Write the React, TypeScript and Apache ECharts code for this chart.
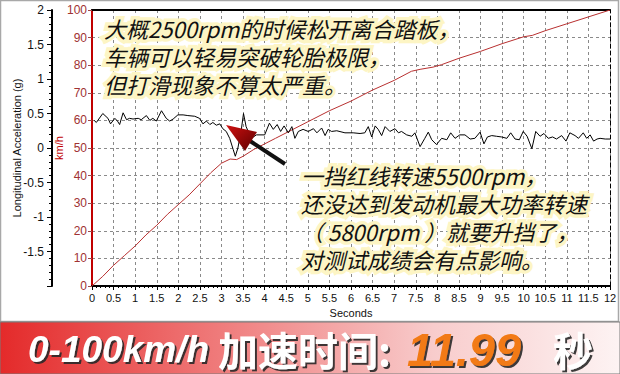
import React, { useEffect, useRef } from "react";
import * as echarts from "echarts";

// Speed (km/h) vs time (s)
const speedTime = [0, 0.25, 0.5, 0.75, 1.0, 1.25, 1.5, 1.75, 2.0, 2.25, 2.5, 2.75, 3.0, 3.2, 3.35, 3.5, 3.75, 4.0, 4.25, 4.5, 5.0, 5.5, 6.0, 6.5, 7.0, 7.4, 7.6, 7.9, 8.1, 8.5, 9.0, 9.5, 10.0, 10.2, 10.5, 11.0, 11.5, 12.0];
const speedKmh = [0, 3.5, 7.5, 11, 14.5, 18.5, 22, 26, 29.5, 33, 37, 41, 44.5, 46, 45.8, 47, 49.5, 51.5, 53.5, 55.5, 59.5, 63.5, 67, 71, 74.5, 77.8, 78.5, 79.3, 80.2, 82.5, 85, 87.8, 90.3, 90.8, 92.5, 95, 97.5, 100];

// Longitudinal acceleration (g) vs time (s)
const accelTime = [0.05, 0.1, 0.25, 0.37, 0.43, 0.53, 0.59, 0.64, 0.72, 0.8, 0.87, 0.95, 1.07, 1.14, 1.26, 1.34, 1.41, 1.49, 1.61, 1.72, 1.8, 1.88, 1.99, 2.11, 2.22, 2.38, 2.49, 2.57, 2.65, 2.73, 2.8, 2.88, 2.96, 3.03, 3.11, 3.19, 3.27, 3.32, 3.38, 3.46, 3.51, 3.57, 3.69, 3.81, 4.0, 4.11, 4.2, 4.29, 4.37, 4.45, 4.55, 4.63, 4.7, 4.78, 4.89, 5.01, 5.13, 5.21, 5.32, 5.4, 5.47, 5.55, 5.67, 5.86, 6.05, 6.21, 6.32, 6.4, 6.48, 6.56, 6.63, 6.71, 6.79, 6.9, 7.02, 7.1, 7.17, 7.29, 7.41, 7.48, 7.6, 7.71, 7.79, 7.87, 7.98, 8.1, 8.22, 8.31, 8.41, 8.52, 8.64, 8.76, 8.87, 8.99, 9.08, 9.16, 9.26, 9.37, 9.49, 9.61, 9.7, 9.8, 9.9, 9.99, 10.08, 10.19, 10.28, 10.38, 10.47, 10.57, 10.67, 10.76, 10.88, 10.98, 11.07, 11.19, 11.27, 11.38, 11.46, 11.54, 11.62, 11.7, 11.77, 11.89, 12.0];
const accelG = [0.4, 0.37, 0.5, 0.43, 0.35, 0.43, 0.39, 0.34, 0.51, 0.41, 0.43, 0.42, 0.43, 0.41, 0.47, 0.4, 0.43, 0.39, 0.54, 0.43, 0.39, 0.42, 0.48, 0.48, 0.47, 0.46, 0.43, 0.35, 0.39, 0.34, 0.37, 0.33, 0.35, 0.28, 0.24, 0.14, -0.02, -0.12, 0.0, 0.27, 0.5, 0.31, 0.14, 0.19, 0.19, 0.36, 0.27, 0.34, 0.24, 0.32, 0.22, 0.31, 0.14, 0.24, 0.27, 0.24, 0.28, 0.22, 0.29, 0.18, 0.27, 0.24, 0.25, 0.22, 0.22, 0.21, 0.22, 0.31, 0.16, 0.32, 0.27, 0.18, 0.31, 0.24, 0.28, 0.22, 0.24, 0.19, 0.17, 0.22, 0.02, 0.14, 0.23, 0.12, 0.05, 0.14, 0.12, 0.22, 0.14, 0.19, 0.19, 0.13, 0.14, 0.23, 0.06, 0.16, 0.18, 0.17, 0.16, 0.14, 0.22, 0.13, 0.12, 0.24, 0.17, -0.01, 0.24, 0.17, 0.21, 0.14, 0.16, 0.13, 0.18, 0.1, 0.22, 0.18, 0.14, 0.22, 0.14, 0.19, 0.1, 0.13, 0.14, 0.13, 0.13];

const note1 = "大概2500rpm的时候松开离合踏板，\n车辆可以轻易突破轮胎极限，\n但打滑现象不算太严重。";
const note2 = "一挡红线转速5500rpm，\n还没达到发动机最大功率转速\n（ 5800rpm ）就要升挡了，\n对测试成绩会有点影响。";
const bannerLabel = "0-100km/h";
const bannerCjk = "加速时间:";
const bannerValue = "11.99";
const bannerUnit = "秒";

const noteFont = 'italic 22px "Noto Sans CJK SC"';

function haloText(x: number, y: number, text: string) {
  return {
    type: "text", x, y, z: 21, silent: true,
    style: {
      text, font: noteFont, lineHeight: 28, fill: "#111",
      stroke: "#fdf5c4", lineWidth: 7, verticalAlign: "top",
    },
  };
}

function shadowText(x: number, y: number, text: string, font: string, fill: string) {
  return {
    type: "text", x, y, z: 31, silent: true,
    style: {
      text, font, fill, verticalAlign: "middle",
      textShadowColor: "rgba(40,40,40,0.9)", textShadowOffsetX: 2, textShadowOffsetY: 2, textShadowBlur: 1,
    },
  };
}

export default function App() {
  const ref = useRef<HTMLDivElement>(null);
  useEffect(() => {
    if (!ref.current) return;
    const chart = echarts.init(ref.current, null, { renderer: "svg" });
    const grid = "#8a8a8a";
    const option: any = {
      animation: false,
      backgroundColor: "#fff",
      grid: { left: 92, right: 10, top: 10, bottom: 88, containLabel: false, outerBoundsMode: "none" },
      xAxis: [
        {
          type: "value", min: 0, max: 12, interval: 0.5, position: "bottom",
          axisLine: { show: true, onZero: false, lineStyle: { color: "#000", width: 2 } },
          axisTick: { show: true, length: 4, lineStyle: { color: "#000" } },
          minorTick: { show: true, splitNumber: 5, length: 2, lineStyle: { color: "#000" } },
          axisLabel: { color: "#111", fontSize: 11, fontFamily: "Liberation Sans", margin: 6 },
          splitLine: { show: true, lineStyle: { type: [3, 3], color: grid } },
          name: "Seconds", nameLocation: "middle", nameGap: 21, nameMoveOverlap: false,
          nameTextStyle: { fontSize: 11, color: "#111", fontFamily: "Liberation Sans" },
        },
        {
          type: "value", min: 0, max: 12, position: "top",
          axisLine: { show: true, onZero: false, lineStyle: { color: "#000", width: 2 } },
          axisTick: { show: false }, axisLabel: { show: false }, splitLine: { show: false },
        },
      ],
      yAxis: [
        {
          type: "value", min: -2, max: 2, interval: 0.5, position: "left", offset: 40,
          axisLine: { show: true, onZero: false, lineStyle: { color: "#000", width: 2 } },
          axisTick: { show: true, length: 5, lineStyle: { color: "#000" } },
          minorTick: { show: true, splitNumber: 5, length: 3, lineStyle: { color: "#000" } },
          axisLabel: {
            color: "#111", fontSize: 12, fontFamily: "Liberation Sans", margin: 8,
            formatter: (v: number) => (v === -2 ? "" : String(v)),
          },
          splitLine: { show: false },
          name: "Longitudinal Acceleration (g)", nameLocation: "middle", nameGap: 30, nameMoveOverlap: false,
          nameTextStyle: { fontSize: 11, color: "#111", fontFamily: "Liberation Sans" },
        },
        {
          type: "value", min: 0, max: 100, interval: 10, position: "left", offset: 0,
          axisLine: { show: true, onZero: false, lineStyle: { color: "#c00000", width: 2 } },
          axisTick: { show: true, length: 4, lineStyle: { color: "#a04848" } },
          axisLabel: { color: "#a03232", fontSize: 12, fontFamily: "Liberation Sans", margin: 5 },
          splitLine: { show: true, lineStyle: { type: [3, 3], color: grid } },
          name: "km/h", nameLocation: "middle", nameGap: 28, nameMoveOverlap: false,
          nameTextStyle: { fontSize: 11, color: "#c00000", fontFamily: "Liberation Sans" },
        },
        {
          type: "value", min: 0, max: 100, position: "right",
          axisLine: { show: true, onZero: false, lineStyle: { color: "#000", width: 1, type: [4, 3] } },
          axisTick: { show: false }, axisLabel: { show: false }, splitLine: { show: false },
        },
      ],
      series: [
        {
          type: "line", xAxisIndex: 0, yAxisIndex: 1, symbol: "none",
          lineStyle: { color: "#b83030", width: 1 },
          data: speedTime.map((t, i) => [t, speedKmh[i]]),
          z: 3,
        },
        {
          type: "line", xAxisIndex: 0, yAxisIndex: 0, symbol: "none",
          lineStyle: { color: "#000", width: 1 },
          data: accelTime.map((t, i) => [t, accelG[i]]),
          z: 4,
        },
      ],
      graphic: [
        {
          type: "rect", z: 1, silent: true,
          shape: { x: 0.5, y: 0.5, width: 618, height: 321 },
          style: { fill: "none", stroke: "#a8a8a8", lineWidth: 1.5 },
        },
        {
          type: "rect", z: 25, silent: true,
          shape: { x: 0, y: 322, width: 620, height: 52 },
          style: {
            fill: new echarts.graphic.LinearGradient(0, 0, 1, 0, [
              { offset: 0, color: "#e42a2a" },
              { offset: 0.35, color: "#ef7a7a" },
              { offset: 0.7, color: "#f8cccc" },
              { offset: 1, color: "#fdf3f3" },
            ]),
            stroke: "#7a7a7a", lineWidth: 1,
          },
        },
        shadowText(28, 349, bannerLabel, 'italic bold 37px "Liberation Sans"', "#fff"),
        shadowText(218, 349, bannerCjk, 'bold 40px "Noto Sans CJK SC"', "#fff"),
        shadowText(407, 349, bannerValue, 'italic bold 47px "Liberation Sans"', "#f27a12"),
        shadowText(553, 349, bannerUnit, 'bold 40px "Noto Sans CJK SC"', "#fff"),
        haloText(104, 14, note1),
        haloText(301, 161, note2),
        {
          type: "line", z: 22, silent: true,
          shape: { x1: 250, y1: 141, x2: 285, y2: 164 },
          style: { stroke: "#111", lineWidth: 4 },
        },
        {
          type: "polygon", z: 23, silent: true,
          shape: { points: [[226, 125], [245, 151], [257, 132]] },
          style: {
            fill: new echarts.graphic.LinearGradient(0, 0, 1, 1, [
              { offset: 0, color: "#d01010" },
              { offset: 1, color: "#5a0000" },
            ]),
          },
        },
      ],
    };
    chart.setOption(option);
    return () => chart.dispose();
  }, []);
  return <div ref={ref} style={{ position: "fixed", left: 0, top: 0, width: 620, height: 374 }} />;
}
